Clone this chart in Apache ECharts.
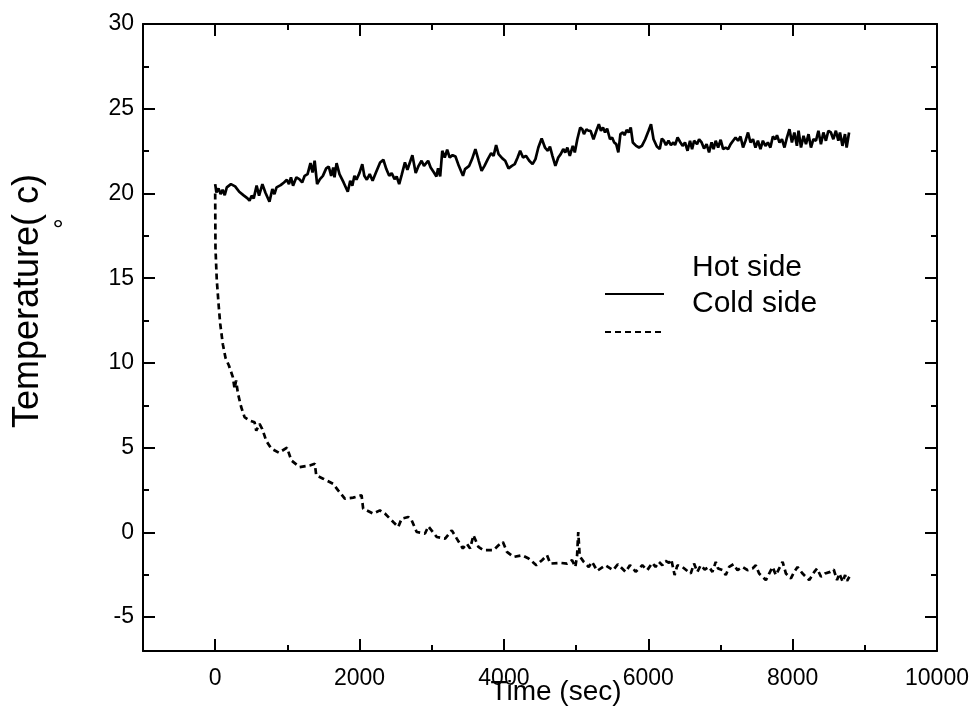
<!DOCTYPE html>
<html><head><meta charset="utf-8">
<script src="https://cdn.jsdelivr.net/npm/echarts@6/dist/echarts.min.js"></script>
<style>html,body{margin:0;padding:0;background:#fff}#c{width:974px;height:709px}</style>
</head><body><div id="c"></div>
<script>
const hotTime=[0,17,46,75,103,132,161,218,276,333,390,448,476,505,534,574,608,654,695,752,792,821,850,907,953,993,1022,1050,1079,1125,1165,1205,1240,1280,1320,1349,1378,1412,1452,1492,1538,1573,1607,1636,1653,1682,1722,1779,1837,1871,1900,1929,1957,1998,2038,2066,2101,2141,2181,2227,2285,2330,2371,2411,2445,2485,2514,2549,2583,2629,2663,2732,2778,2818,2859,2893,2916,2950,2985,3031,3065,3088,3117,3146,3180,3214,3249,3289,3329,3375,3433,3461,3519,3559,3605,3651,3691,3731,3777,3823,3857,3892,3926,3978,4018,4064,4110,4150,4190,4225,4265,4305,4351,4397,4437,4477,4523,4569,4609,4638,4672,4713,4753,4787,4822,4850,4879,4913,4954,4982,5017,5057,5086,5109,5143,5172,5200,5241,5281,5315,5344,5373,5401,5430,5470,5499,5528,5556,5585,5614,5648,5671,5700,5729,5757,5786,5832,5872,5912,5958,6004,6038,6073,6119,6159,6188,6216,6245,6280,6314,6348,6371,6406,6446,6475,6509,6544,6578,6607,6635,6676,6704,6739,6773,6808,6842,6877,6905,6934,6968,7003,7037,7072,7106,7141,7175,7209,7244,7278,7313,7347,7382,7416,7451,7485,7519,7554,7588,7623,7657,7692,7726,7761,7783,7818,7852,7887,7921,7956,7990,8024,8059,8082,8116,8151,8185,8220,8254,8288,8323,8357,8392,8426,8461,8495,8530,8564,8599,8633,8656,8690,8725,8748,8782];
const hotTemp=[20.55,20.06,20.30,19.96,20.22,19.90,20.36,20.55,20.42,20.10,19.90,19.71,19.57,19.87,19.71,20.46,19.87,20.55,20.06,19.51,20.26,19.96,20.36,20.49,20.65,20.81,20.55,20.95,20.46,20.95,20.85,20.65,21.04,21.14,21.79,21.24,21.93,20.55,20.85,21.04,21.48,21.59,21.04,21.53,20.95,21.79,21.14,20.65,20.10,20.75,20.46,21.04,20.81,21.20,21.73,21.04,20.81,21.14,20.75,21.24,21.83,21.99,21.44,21.04,21.20,20.85,21.00,20.55,21.08,21.83,21.40,22.26,21.20,21.63,21.93,21.63,21.53,21.93,21.53,21.24,21.00,21.48,21.00,22.52,22.12,22.58,22.12,22.26,22.18,21.63,21.04,21.44,21.63,22.03,22.62,21.93,21.34,21.63,22.03,22.38,22.22,22.85,22.32,22.07,21.93,21.48,21.63,21.73,22.12,22.52,22.12,22.22,21.93,21.73,22.03,22.71,23.24,22.71,22.52,22.77,22.22,21.63,22.12,22.32,22.62,22.42,22.71,22.22,22.81,22.42,23.20,23.89,23.79,23.50,23.79,23.70,23.70,23.20,23.70,24.09,23.70,23.89,23.60,23.83,23.20,23.30,23.01,22.91,22.42,23.50,23.60,23.44,23.75,23.60,23.89,23.01,22.81,22.71,22.81,23.20,23.70,24.09,23.20,22.77,22.62,23.24,23.11,22.85,23.11,22.85,23.01,22.85,23.30,23.01,22.81,23.01,22.52,23.11,22.62,23.11,22.91,23.20,23.01,22.65,22.91,22.42,23.01,22.62,23.11,22.71,23.17,22.62,22.71,22.62,22.91,23.11,23.30,23.11,23.36,22.71,23.11,23.60,23.01,23.20,22.71,23.11,22.62,23.11,22.81,23.01,22.71,23.36,23.20,23.44,23.01,23.20,22.71,23.30,23.79,23.01,23.60,22.81,23.70,22.71,23.40,22.91,23.50,22.71,23.20,23.11,23.70,22.91,23.60,23.11,23.70,23.60,23.20,23.70,23.11,23.60,22.81,23.50,22.71,23.60];
const coldTime=[0,4,22,50,70,106,143,190,245,268,290,315,360,407,476,546,569,615,652,708,777,884,995,1055,1170,1310,1380,1400,1495,1634,1703,1796,1911,2028,2050,2189,2282,2351,2467,2536,2583,2675,2722,2792,2907,2953,3069,3185,3278,3347,3431,3486,3532,3578,3647,3717,3856,3925,3986,4042,4133,4250,4342,4449,4528,4597,4643,4782,4875,4944,4990,5014,5022,5030,5050,5106,5175,5222,5292,5407,5514,5578,5685,5745,5778,5824,5917,5986,6055,6101,6147,6194,6240,6286,6319,6365,6403,6472,6588,6634,6680,6727,6782,6842,6889,6935,6967,7028,7074,7120,7181,7236,7306,7375,7444,7490,7536,7583,7629,7675,7722,7768,7814,7861,7907,7976,8022,8068,8138,8230,8300,8338,8393,8448,8522,8569,8615,8647,8694,8727,8754,8786];
const coldTemp=[20.0,16.8,14.9,13.3,12.3,11.1,10.3,9.85,9.16,8.5,8.96,8.2,7.4,6.8,6.6,6.5,6.0,6.4,6.1,5.4,4.95,4.7,5.0,4.25,3.85,3.95,4.05,3.36,3.17,2.87,2.48,1.99,2.05,2.19,1.40,1.11,1.30,1.11,0.61,0.32,0.81,0.91,0.71,0.02,-0.07,0.36,-0.27,-0.37,0.12,-0.37,-0.95,-0.66,-0.95,-0.17,-0.86,-1.05,-1.05,-0.76,-0.57,-1.15,-1.45,-1.35,-1.54,-1.94,-1.64,-1.35,-1.84,-1.80,-1.84,-1.64,-2.04,-1.35,-0.66,0.02,-1.40,-1.74,-2.04,-1.74,-2.27,-1.94,-2.23,-1.88,-2.33,-1.94,-2.04,-2.33,-1.94,-2.23,-1.80,-2.04,-1.74,-1.94,-1.68,-1.80,-1.60,-2.52,-1.94,-2.04,-2.43,-1.84,-2.33,-1.94,-2.19,-2.04,-2.33,-1.74,-2.13,-2.23,-2.52,-2.04,-1.88,-2.23,-2.04,-2.23,-2.13,-1.94,-2.43,-2.62,-2.82,-2.43,-2.04,-2.52,-2.13,-1.74,-2.43,-2.72,-2.33,-2.04,-2.43,-2.82,-2.33,-2.13,-2.62,-2.43,-2.33,-2.19,-2.82,-2.43,-2.91,-2.52,-2.86,-2.62];
const xMajor=[0,2000,4000,6000,8000,10000];
const xMinor=[1000,3000,5000,7000,9000];
const yMajor=[-5,0,5,10,15,20,25,30];
const yMinor=[-2.5,2.5,7.5,12.5,17.5,22.5,27.5];
const seriesNames=['Hot side','Cold side'];
const xTitle='Time (sec)';
const yTitle='Temperature( c)';

const FONT='"Liberation Sans", Arial, sans-serif';
const BLACK='#000';
function zip(a,b){return a.map((v,i)=>[v,b[i]]);}
function axis(kind,pos,ticks,len,line,labels,extra){
  const o={type:'value',position:pos,gridIndex:0,
    min:kind==='x'?-1000:-7,max:kind==='x'?10000:30,
    axisLine:{show:line,onZero:false,lineStyle:{color:BLACK,width:2}},
    axisTick:{show:true,inside:true,length:len,customValues:ticks,lineStyle:{color:BLACK,width:2}},
    axisLabel:labels?{show:true,customValues:ticks,formatter:v=>String(v),fontSize:23,color:BLACK,fontFamily:FONT,margin:kind==='x'?16:9}:{show:false},
    splitLine:{show:false}};
  return Object.assign(o,extra||{});
}
function legendOf(name,top,shift){
  return {data:[name],left:604,top:top,padding:0,itemWidth:59,itemHeight:14,
    itemStyle:{opacity:0},
    formatter:n=>'{t|'+n+'}',
    textStyle:{color:BLACK,fontFamily:FONT,fontSize:30,
      rich:{t:{fontSize:30,color:BLACK,fontFamily:FONT,padding:[0,0,shift,23]}}}};
}
const chart=echarts.init(document.getElementById('c'),null,{renderer:'canvas'});
chart.setOption({
  backgroundColor:'#fff',
  animation:false,
  grid:{left:143,right:37,top:24,bottom:58,containLabel:false,outerBoundsMode:'none'},
  xAxis:[
    axis('x','bottom',xMajor,12,true,true,{name:xTitle,nameLocation:'middle',nameGap:27,nameMoveOverlap:false,
      nameTextStyle:{fontSize:28,color:BLACK,fontFamily:FONT,padding:[0,0,0,32]}}),
    axis('x','bottom',xMinor,6,false,false),
    axis('x','top',xMajor,12,true,false),
    axis('x','top',xMinor,6,false,false)
  ],
  yAxis:[
    axis('y','left',yMajor,12,true,true,{name:yTitle,nameLocation:'middle',nameRotate:90,nameGap:97,nameMoveOverlap:false,
      nameTextStyle:{fontSize:36,color:BLACK,fontFamily:FONT,padding:[0,0,0,73]}}),
    axis('y','left',yMinor,6,false,false),
    axis('y','right',yMajor,12,true,false),
    axis('y','right',yMinor,6,false,false)
  ],
  legend:[legendOf(seriesNames[0],253,52),legendOf(seriesNames[1],289,56)],
  graphic:[{type:'text',x:58,y:231,style:{text:'°',fontSize:28,fill:BLACK,fontFamily:FONT,align:'center',verticalAlign:'middle'}}],
  series:[
    {name:seriesNames[0],type:'line',xAxisIndex:0,yAxisIndex:0,data:zip(hotTime,hotTemp),symbol:'none',
      lineStyle:{color:BLACK,width:2.7,type:'solid'},itemStyle:{color:BLACK}},
    {name:seriesNames[1],type:'line',xAxisIndex:0,yAxisIndex:0,data:zip(coldTime,coldTemp),symbol:'none',
      lineStyle:{color:BLACK,width:2.7,type:[6,4]},itemStyle:{color:BLACK}}
  ]
});
</script></body></html>
